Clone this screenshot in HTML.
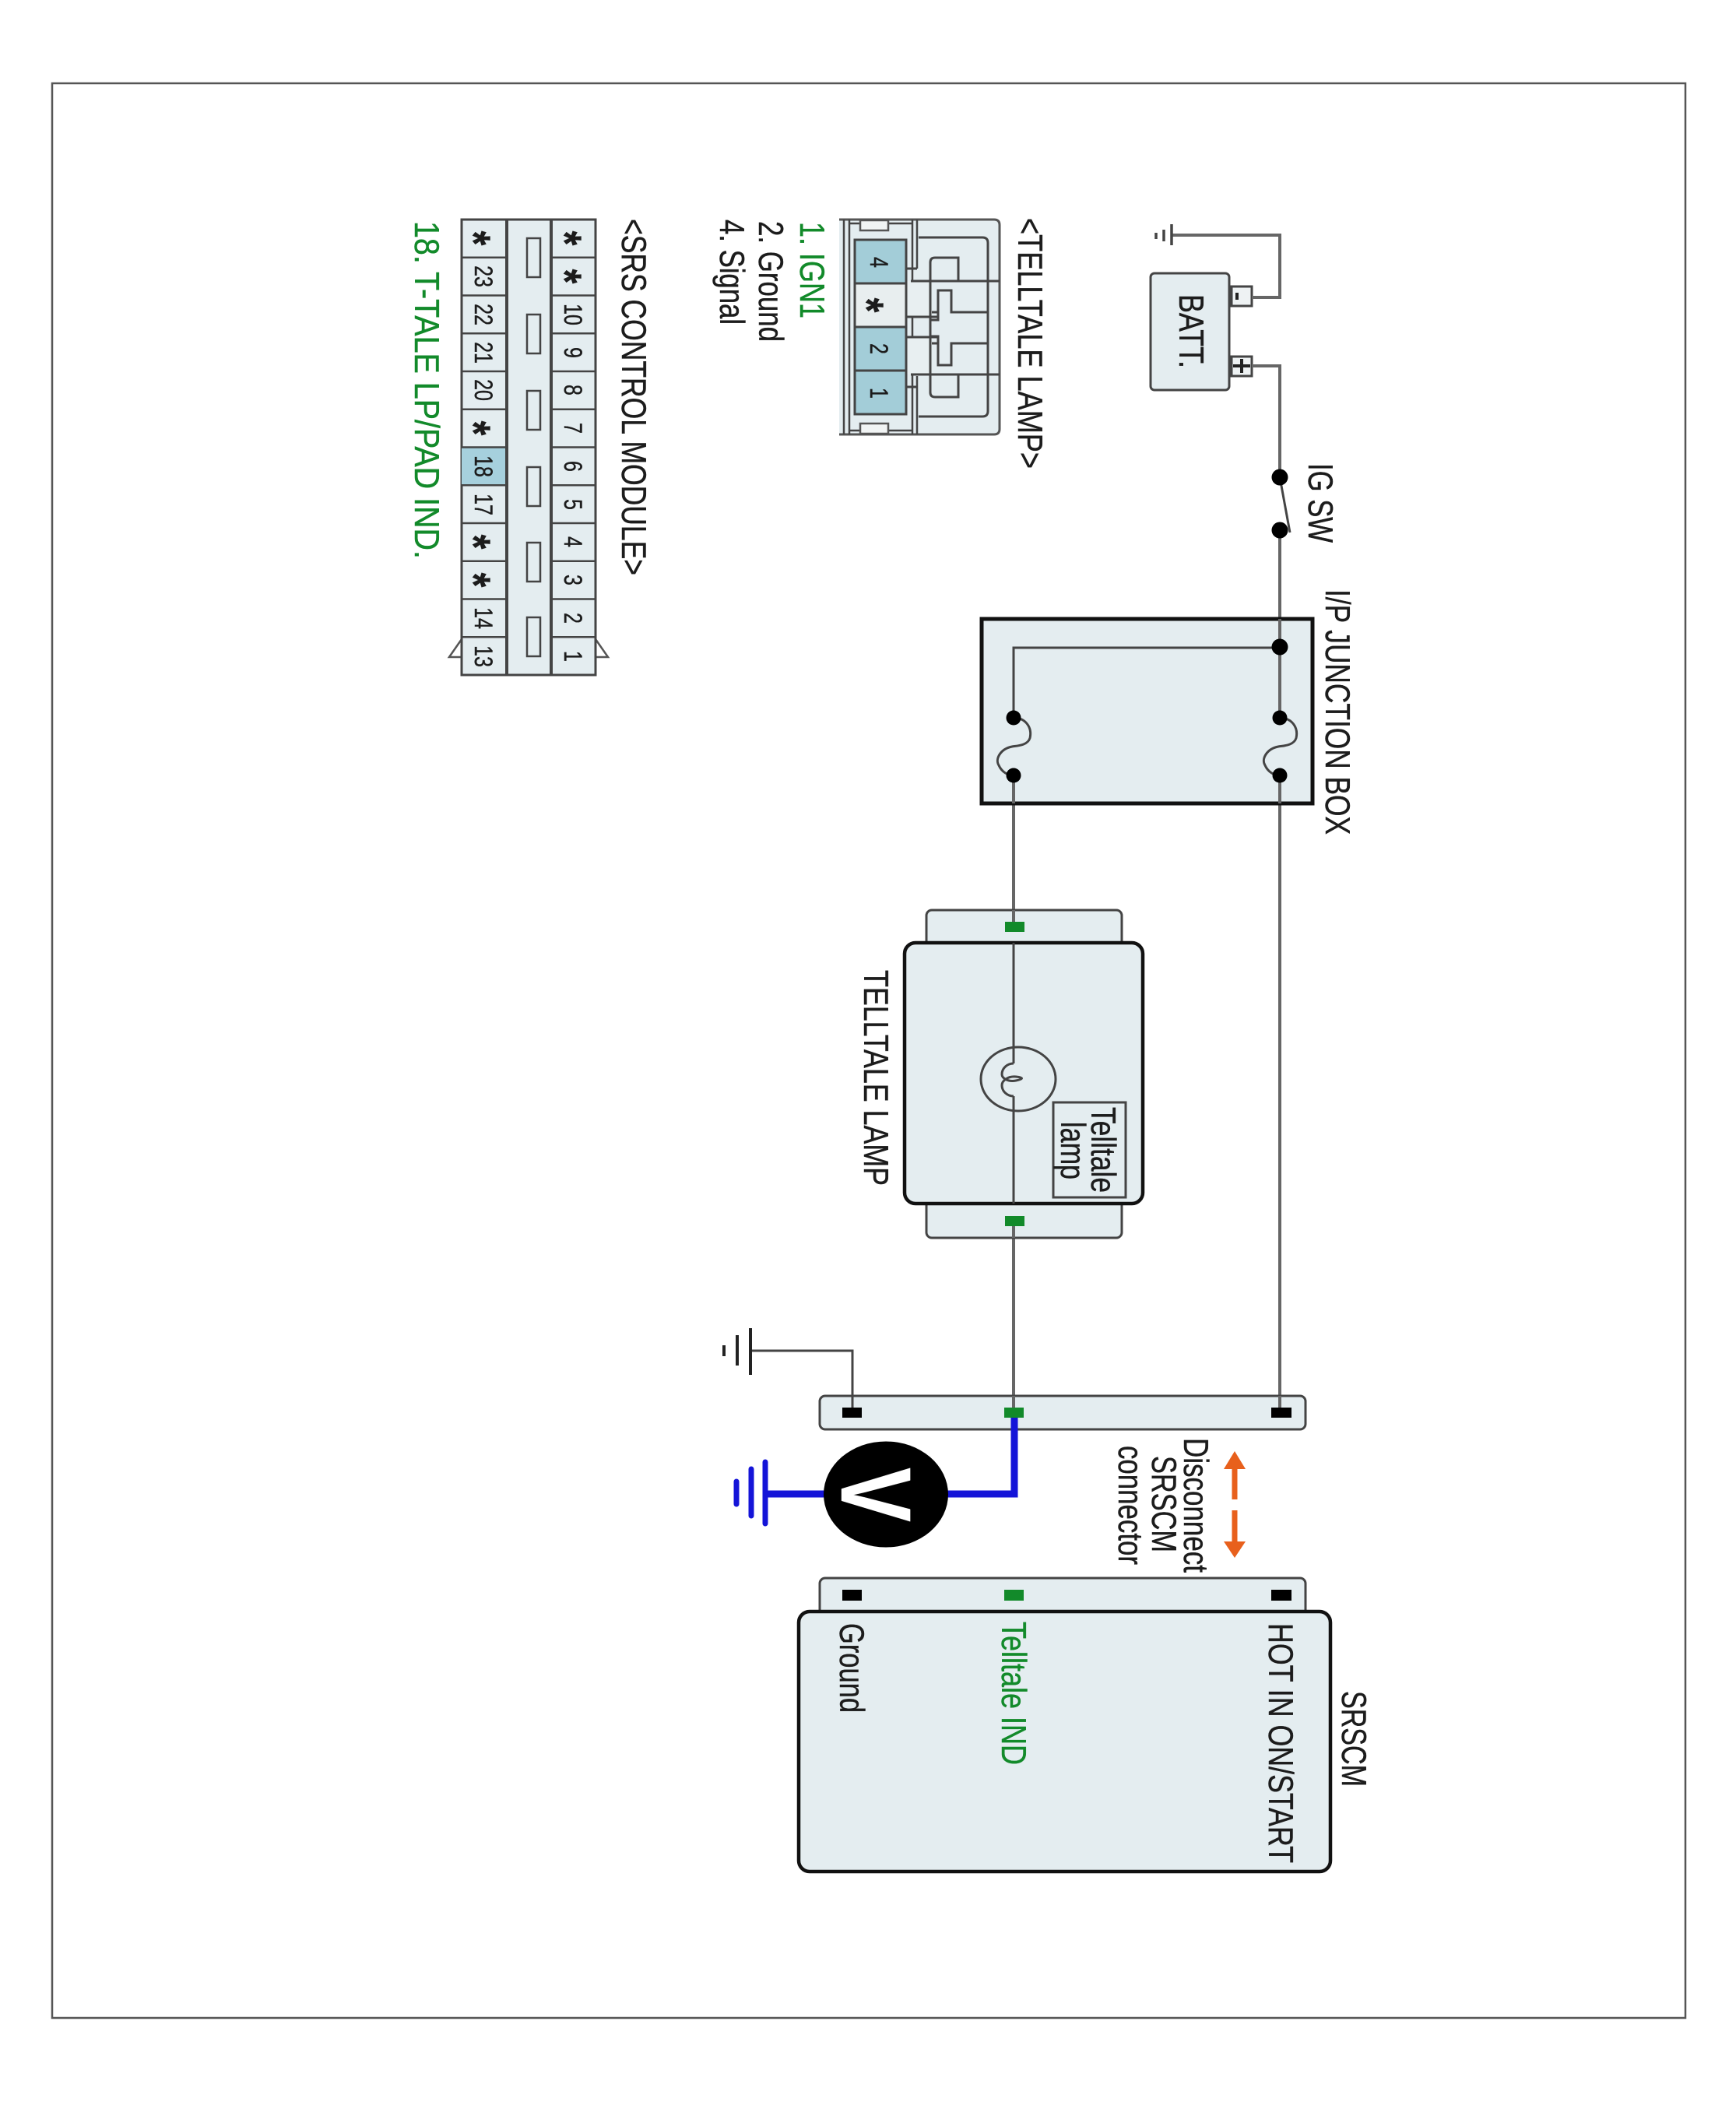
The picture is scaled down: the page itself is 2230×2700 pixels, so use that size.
<!DOCTYPE html>
<html>
<head>
<meta charset="utf-8">
<style>
html,body{margin:0;padding:0;background:#fff}
svg{display:block}
text{font-family:"Liberation Sans",sans-serif;fill:#1c1c1c;stroke:#1c1c1c;stroke-width:.35}
text.g{fill:#128a2a;stroke:#128a2a}
.b{fill:#e4edf0;stroke:#444;stroke-width:3}
.k{fill:#e4edf0;stroke:#111;stroke-width:5}
.w{fill:none;stroke:#666;stroke-width:4}
.t{fill:none;stroke:#444;stroke-width:3}
.n{font-size:25px;text-anchor:middle}
.a{font-size:48px;font-weight:bold;text-anchor:middle}
.l{font-size:34px}
</style>
</head>
<body>
<svg xmlns="http://www.w3.org/2000/svg" width="2230" height="2700" viewBox="0 0 2230 2700">
<rect width="2230" height="2700" fill="#fff"/>
<rect x="67" y="107" width="2098" height="2485" fill="none" stroke="#555" stroke-width="2.5"/>

<!-- Battery -->
<rect x="1582" y="368" width="26" height="25" fill="#eef2f3" stroke="#444" stroke-width="3"/>
<rect x="1582" y="458" width="26" height="25" fill="#eef2f3" stroke="#444" stroke-width="3"/>
<rect x="1478" y="351" width="101" height="150" rx="5" class="b"/>
<path d="M1589 376v9" stroke="#222" stroke-width="4"/>
<path d="M1584 470h22M1595 461v18" stroke="#222" stroke-width="4"/>
<path class="w" d="M1505 302H1644V382H1608"/>
<path class="w" d="M1608 470H1644V1808"/>
<path d="M1505 288V315M1495 295V310M1485 299V307" stroke="#444" stroke-width="3.5" fill="none"/>
<text class="l" transform="translate(1515,378) rotate(90) scale(1,1.3)" textLength="95" lengthAdjust="spacingAndGlyphs">BATT.</text>

<!-- Second wire -->
<path class="w" d="M1302 996V1808"/>

<!-- IG switch: cover wire between contacts -->
<rect x="1638" y="622" width="12" height="50" fill="#fff"/>
<path d="M1644 613L1657 684" stroke="#444" stroke-width="3" fill="none"/>
<circle cx="1644" cy="613" r="10.5" fill="#000"/>
<circle cx="1644" cy="681" r="10.5" fill="#000"/>
<text class="l" transform="translate(1681,595) rotate(90) scale(1,1.3)" textLength="102" lengthAdjust="spacingAndGlyphs">IG SW</text>

<!-- Junction box -->
<rect x="1261" y="795" width="425" height="237" class="k"/>
<path d="M1644 1032V996M1302 1032V996" stroke="#666" stroke-width="4"/>
<path class="w" d="M1644 795V922" />
<path class="t" d="M1644 832H1302V922"/>
<path class="t" d="M1302 922C1318 922 1326 935 1323 948C1320 958 1305 958 1300 959C1285 962 1278 975 1283 983C1287 992 1295 996 1302 996"/>
<path class="t" d="M1644 922C1660 922 1668 935 1665 948C1662 958 1647 958 1642 959C1627 962 1620 975 1625 983C1629 992 1637 996 1644 996"/>
<circle cx="1644" cy="831" r="10.5" fill="#000"/>
<circle cx="1644" cy="922" r="9.5" fill="#000"/>
<circle cx="1644" cy="996" r="9.5" fill="#000"/>
<circle cx="1302" cy="922" r="9.5" fill="#000"/>
<circle cx="1302" cy="996" r="9.5" fill="#000"/>
<text class="l" transform="translate(1703,757) rotate(90) scale(1,1.3)" textLength="315" lengthAdjust="spacingAndGlyphs">I/P JUNCTION BOX</text>

<!-- Telltale lamp -->
<rect x="1190" y="1169" width="251" height="60" rx="7" class="b"/>
<rect x="1190" y="1530" width="251" height="60" rx="7" class="b"/>
<rect x="1162" y="1211" width="306" height="335" rx="14" fill="#e4edf0" stroke="#111" stroke-width="4.5"/>
<path class="w" d="M1302 1169V1186M1302 1573V1590"/>
<path class="t" d="M1302 1211V1366M1302 1408V1546"/>
<ellipse cx="1308" cy="1386" rx="48" ry="41" fill="none" stroke="#444" stroke-width="3"/>
<path class="t" d="M1302 1366C1294 1366 1287 1372 1287 1380C1287 1385 1295 1390 1305 1388C1315 1386 1315 1384 1305 1383C1295 1382 1287 1388 1287 1394C1287 1402 1294 1408 1302 1408"/>
<rect x="1291" y="1184" width="25" height="13" fill="#128a2a"/>
<rect x="1291" y="1562" width="25" height="13" fill="#128a2a"/>
<rect x="1353" y="1416" width="93" height="122" fill="none" stroke="#444" stroke-width="3"/>
<text class="l" transform="translate(1402,1422) rotate(90) scale(1,1.3)" textLength="110" lengthAdjust="spacingAndGlyphs">Telltale</text>
<text class="l" transform="translate(1363,1441) rotate(90) scale(1,1.3)" textLength="74" lengthAdjust="spacingAndGlyphs">lamp</text>
<text class="l" transform="translate(1110,1246) rotate(90) scale(1,1.3)" textLength="277" lengthAdjust="spacingAndGlyphs">TELLTALE LAMP</text>

<!-- Harness connector -->
<rect x="1053" y="1793" width="624" height="43" rx="7" class="b"/>
<path class="w" d="M1302 1793V1808M1644 1793V1808"/>
<path class="t" d="M964 1735H1095V1808"/>
<path d="M964 1706V1766M947 1715V1754M930 1728V1742" stroke="#222" stroke-width="4" fill="none"/>
<rect x="1082" y="1808" width="25" height="13" fill="#000"/>
<rect x="1633" y="1808" width="26" height="13" fill="#000"/>

<!-- Voltmeter -->
<path d="M1303 1821V1919H984" fill="none" stroke="#1414d8" stroke-width="9"/>
<path d="M983 1878V1957M965 1887V1947M946 1903V1932" stroke="#1414d8" stroke-width="7" stroke-linecap="round" fill="none"/>
<rect x="1290" y="1808" width="25" height="13" fill="#128a2a"/>
<ellipse cx="1138" cy="1919.5" rx="80" ry="68" fill="#000"/>
<text transform="translate(1081,1885) rotate(90) scale(1,1.22)" textLength="70" lengthAdjust="spacingAndGlyphs" style="font-size:105px;font-weight:bold;fill:#fff;stroke:#fff">V</text>

<!-- Orange arrows -->
<path d="M1586 1864L1600 1887H1589.5V1926H1582.5V1887H1572Z" fill="#e8601c"/>
<path d="M1586 2001L1600 1980H1589.5V1940H1582.5V1980H1572Z" fill="#e8601c"/>
<text class="l" transform="translate(1521,1847) rotate(90) scale(1,1.3)" textLength="173" lengthAdjust="spacingAndGlyphs">Disconnect</text>
<text class="l" transform="translate(1480,1870) rotate(90) scale(1,1.3)" textLength="124" lengthAdjust="spacingAndGlyphs">SRSCM</text>
<text class="l" transform="translate(1437,1857) rotate(90) scale(1,1.3)" textLength="153" lengthAdjust="spacingAndGlyphs">connector</text>

<!-- SRSCM -->
<rect x="1053" y="2027" width="624" height="60" rx="7" class="b"/>
<rect x="1082" y="2042" width="25" height="14" fill="#000"/>
<rect x="1290" y="2042" width="25" height="14" fill="#128a2a"/>
<rect x="1633" y="2042" width="26" height="14" fill="#000"/>
<rect x="1026" y="2070" width="683" height="334" rx="14" fill="#e4edf0" stroke="#111" stroke-width="4.5"/>
<text class="l" transform="translate(1079,2085) rotate(90) scale(1,1.3)" textLength="115" lengthAdjust="spacingAndGlyphs">Ground</text>
<text class="l g" transform="translate(1287,2083) rotate(90) scale(1,1.3)" textLength="184" lengthAdjust="spacingAndGlyphs">Telltale IND</text>
<text class="l" transform="translate(1630,2085) rotate(90) scale(1,1.3)" textLength="308" lengthAdjust="spacingAndGlyphs">HOT IN ON/START</text>
<text class="l" transform="translate(1724,2172) rotate(90) scale(1,1.3)" textLength="123" lengthAdjust="spacingAndGlyphs">SRSCM</text>

<!-- Telltale connector -->
<text class="l" transform="translate(1308,280) rotate(90) scale(1,1.3)" textLength="322" lengthAdjust="spacingAndGlyphs">&lt;TELLTALE LAMP&gt;</text>
<path d="M1078 282H1277Q1284 282 1284 289V551Q1284 558 1277 558H1078" fill="#e4edf0" stroke="#555" stroke-width="3"/>
<path d="M1084 282V558M1091 282V558M1172 282V558M1178 282V345M1178 483V558M1091 287H1172M1091 553H1172" stroke="#444" stroke-width="2.5" fill="none"/>
<rect x="1105" y="283" width="36" height="13" fill="#f1f4f4" stroke="#555" stroke-width="2.5"/>
<rect x="1105" y="544" width="36" height="13" fill="#f1f4f4" stroke="#555" stroke-width="2.5"/>
<path class="t" d="M1180 305H1262Q1269 305 1269 312V528Q1269 535 1262 535H1180"/>
<path class="t" d="M1170 361H1284M1170 481H1284"/>
<path class="t" d="M1231 361V331H1201Q1195 331 1195 337V504Q1195 510 1201 510H1231V481"/>
<path class="t" d="M1269 401H1222V373H1205V411H1195M1195 401H1205M1269 441H1222V469H1205V432H1195M1195 441H1205"/>
<path class="t" d="M1165 345H1178M1165 497H1178"/>
<path d="M1164 361H1197V407H1170Q1164 407 1164 402ZM1164 433H1197V481H1170Q1164 481 1164 476Z" fill="#e8eff1" stroke="none"/>
<path class="t" d="M1170 361H1197M1164 407H1205M1164 433H1205M1170 481H1197M1195 361V411M1195 432V481"/>
<rect x="1098" y="308" width="66" height="56" fill="#a3cdd8" stroke="#444" stroke-width="3"/>
<rect x="1098" y="364" width="66" height="56" fill="#e8eeef" stroke="#444" stroke-width="3"/>
<rect x="1098" y="420" width="66" height="56" fill="#a3cdd8" stroke="#444" stroke-width="3"/>
<rect x="1098" y="476" width="66" height="56" fill="#a3cdd8" stroke="#444" stroke-width="3"/>
<text class="n" transform="translate(1118,337) rotate(90) scale(1,1.3)">4</text>
<text class="a" transform="translate(1093,392) rotate(90) scale(1,1.25)">*</text>
<text class="n" transform="translate(1118,448) rotate(90) scale(1,1.3)">2</text>
<text class="n" transform="translate(1118,505) rotate(90) scale(1,1.3)">1</text>
<text class="l g" transform="translate(1028,285) rotate(90) scale(1,1.3)" textLength="124" lengthAdjust="spacingAndGlyphs">1. IGN1</text>
<text class="l" transform="translate(975,284) rotate(90) scale(1,1.3)" textLength="155" lengthAdjust="spacingAndGlyphs">2. Ground</text>
<text class="l" transform="translate(925,282) rotate(90) scale(1,1.3)" textLength="135" lengthAdjust="spacingAndGlyphs">4. Signal</text>

<!-- SRS connector -->
<text class="l" transform="translate(799,281) rotate(90) scale(1,1.3)" textLength="458" lengthAdjust="spacingAndGlyphs">&lt;SRS CONTROL MODULE&gt;</text>
<path d="M593 821L577 844H593ZM765 821L781 844H765Z" fill="#fff" stroke="#555" stroke-width="2.5"/>
<rect x="593" y="282" width="172" height="585" fill="#e4edf0" stroke="#444" stroke-width="3"/>
<rect x="593" y="574.5" width="58" height="48.75" fill="#a6d0dd"/>
<path d="M651 282V867M708 282V867" stroke="#444" stroke-width="4"/>
<path d="M593 330.75H651M593 379.5H651M593 428.25H651M593 477H651M593 525.75H651M593 574.5H651M593 623.25H651M593 672H651M593 720.75H651M593 769.5H651M593 818.25H651M708 330.75H765M708 379.5H765M708 428.25H765M708 477H765M708 525.75H765M708 574.5H765M708 623.25H765M708 672H765M708 720.75H765M708 769.5H765M708 818.25H765" stroke="#444" stroke-width="2.5"/>
<g fill="#e4edf0" stroke="#444" stroke-width="2.5">
<rect x="677" y="306" width="17" height="50"/>
<rect x="677" y="404" width="17" height="50"/>
<rect x="677" y="502" width="17" height="50"/>
<rect x="677" y="600" width="17" height="50"/>
<rect x="677" y="697" width="17" height="50"/>
<rect x="677" y="793" width="17" height="50"/>
</g>
<text class="a" transform="translate(705,306) rotate(90) scale(1,1.25)">*</text>
<text class="a" transform="translate(705,355) rotate(90) scale(1,1.25)">*</text>
<text class="n" transform="translate(725,404) rotate(90) scale(1,1.3)">10</text>
<text class="n" transform="translate(725,453) rotate(90) scale(1,1.3)">9</text>
<text class="n" transform="translate(725,501) rotate(90) scale(1,1.3)">8</text>
<text class="n" transform="translate(725,550) rotate(90) scale(1,1.3)">7</text>
<text class="n" transform="translate(725,599) rotate(90) scale(1,1.3)">6</text>
<text class="n" transform="translate(725,648) rotate(90) scale(1,1.3)">5</text>
<text class="n" transform="translate(725,696) rotate(90) scale(1,1.3)">4</text>
<text class="n" transform="translate(725,745) rotate(90) scale(1,1.3)">3</text>
<text class="n" transform="translate(725,794) rotate(90) scale(1,1.3)">2</text>
<text class="n" transform="translate(725,843) rotate(90) scale(1,1.3)">1</text>
<text class="a" transform="translate(588,306) rotate(90) scale(1,1.25)">*</text>
<text class="n" transform="translate(610,355) rotate(90) scale(1,1.3)">23</text>
<text class="n" transform="translate(610,404) rotate(90) scale(1,1.3)">22</text>
<text class="n" transform="translate(610,453) rotate(90) scale(1,1.3)">21</text>
<text class="n" transform="translate(610,501) rotate(90) scale(1,1.3)">20</text>
<text class="a" transform="translate(588,550) rotate(90) scale(1,1.25)">*</text>
<text class="n" transform="translate(610,599) rotate(90) scale(1,1.3)">18</text>
<text class="n" transform="translate(610,648) rotate(90) scale(1,1.3)">17</text>
<text class="a" transform="translate(588,696) rotate(90) scale(1,1.25)">*</text>
<text class="a" transform="translate(588,745) rotate(90) scale(1,1.25)">*</text>
<text class="n" transform="translate(610,794) rotate(90) scale(1,1.3)">14</text>
<text class="n" transform="translate(610,843) rotate(90) scale(1,1.3)">13</text>
<text class="l g" transform="translate(533,284) rotate(90) scale(1,1.3)" textLength="434" lengthAdjust="spacingAndGlyphs">18. T-TALE LP/PAD IND.</text>
</svg>
</body>
</html>
